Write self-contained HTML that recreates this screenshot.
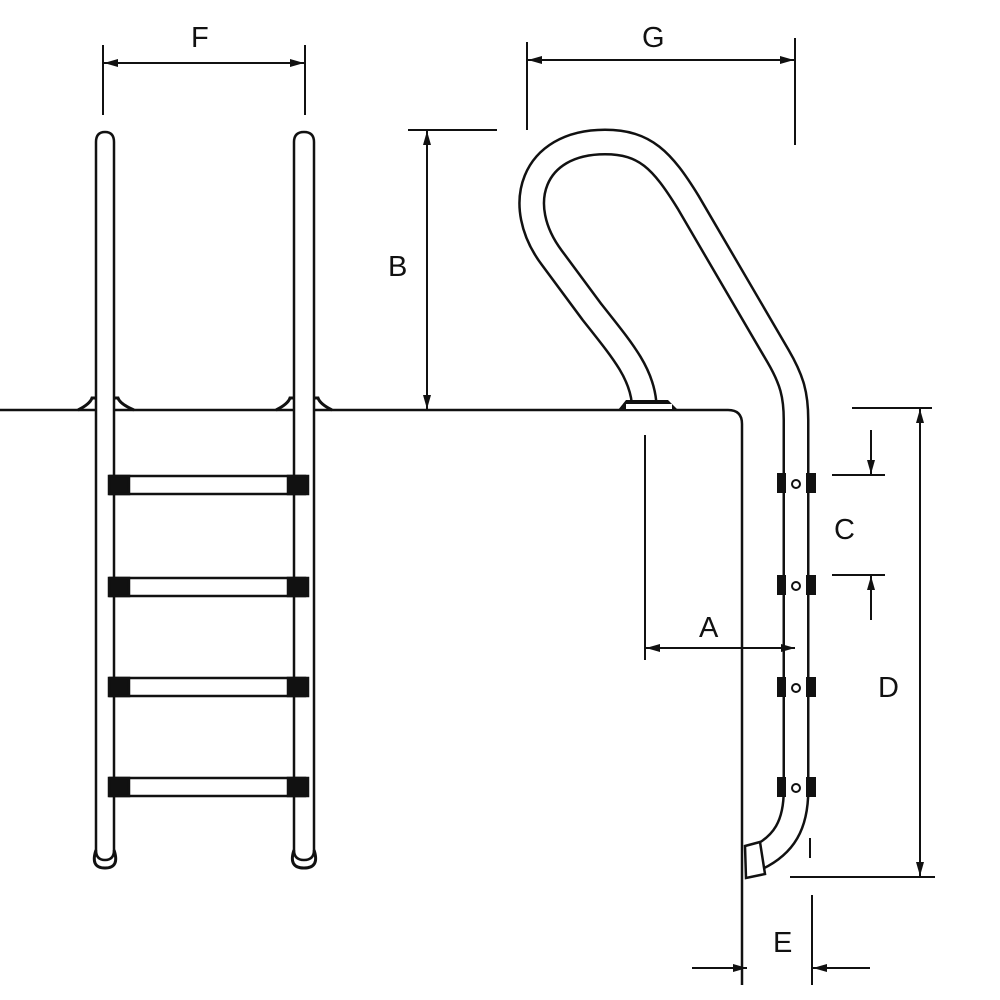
<!DOCTYPE html>
<html><head><style>
html,body{margin:0;padding:0;background:#fff;}
svg{display:block}
text{font-family:"Liberation Sans",sans-serif;font-size:29px;fill:#111;}
</style></head><body>
<svg width="1000" height="1000" viewBox="0 0 1000 1000" xmlns="http://www.w3.org/2000/svg">
<defs>
<marker id="ar" viewBox="0 0 14 8" refX="14" refY="4" markerWidth="14" markerHeight="8" orient="auto-start-reverse" markerUnits="userSpaceOnUse">
<path d="M0,0 L14,4 L0,8 Z" fill="#111"/></marker>
</defs>
<g stroke="#111" fill="none" stroke-width="2.5">
<path d="M78,410 Q90,404 92,398 L118,398 Q120,404 134,410 M276,410 Q288,404 290,398 L318,398 Q320,404 332,410" stroke-width="3"/>
<path d="M0,410 L728,410 Q742,410 742,424 L742,985"/>
<path d="M96,850 L96,142 Q96,132 105,132 Q114,132 114,142 L114,850 Q114,860 105,860 Q96,860 96,850 Z" fill="#fff"/>
<path d="M294,850 L294,142 Q294,132 304,132 Q314,132 314,142 L314,850 Q314,860 304,860 Q294,860 294,850 Z" fill="#fff"/>
<path d="M96,850 Q90,868 105,868 Q120,868 114,850" stroke-width="3"/>
<path d="M294,850 Q288,868 304,868 Q320,868 314,850" stroke-width="3"/>
</g>
<g stroke="#111" stroke-width="2.5">
<g fill="#fff">
<rect x="110" y="476" width="195" height="18"/>
<rect x="110" y="578" width="195" height="18"/>
<rect x="110" y="678" width="195" height="18"/>
<rect x="110" y="778" width="195" height="18"/>
</g>
<g fill="#111">
<rect x="109" y="476" width="20" height="18"/><rect x="288" y="476" width="20" height="18"/>
<rect x="109" y="578" width="20" height="18"/><rect x="288" y="578" width="20" height="18"/>
<rect x="109" y="678" width="20" height="18"/><rect x="288" y="678" width="20" height="18"/>
<rect x="109" y="778" width="20" height="18"/><rect x="288" y="778" width="20" height="18"/>
</g>
</g>
<path d="M644,402 C641,372 622,350 592,312 L552,258 C512,205 532,142 605,142 C645,142 662,160 688,202 L778,356 C792,380 796,395 796,420 L796,790 C796,825 784,845 757,858" fill="none" stroke="#111" stroke-width="27"/>
<path d="M644,402 C641,372 622,350 592,312 L552,258 C512,205 532,142 605,142 C645,142 662,160 688,202 L778,356 C792,380 796,395 796,420 L796,790 C796,825 784,845 757,858" fill="none" stroke="#fff" stroke-width="22"/>
<path d="M618,410 L626,400 L668,400 L678,410 Z" fill="#111"/>
<rect x="626" y="404" width="46" height="5" fill="#fff"/>
<path d="M745,846 L760,842 L765,874 L746,878 Z" fill="#fff" stroke="#111" stroke-width="2.5"/>
<g fill="#111">
<rect x="777" y="473" width="9" height="20"/><rect x="806" y="473" width="10" height="20"/>
<rect x="777" y="575" width="9" height="20"/><rect x="806" y="575" width="10" height="20"/>
<rect x="777" y="677" width="9" height="20"/><rect x="806" y="677" width="10" height="20"/>
<rect x="777" y="777" width="9" height="20"/><rect x="806" y="777" width="10" height="20"/>
</g>
<g fill="#fff" stroke="#111" stroke-width="2">
<circle cx="796" cy="484" r="4"/><circle cx="796" cy="586" r="4"/><circle cx="796" cy="688" r="4"/><circle cx="796" cy="788" r="4"/>
</g>
<g stroke="#111" stroke-width="2" fill="none">
<line x1="103" y1="45" x2="103" y2="115"/><line x1="305" y1="45" x2="305" y2="115"/>
<line x1="104" y1="63" x2="304" y2="63" marker-start="url(#ar)" marker-end="url(#ar)"/>
<line x1="527" y1="42" x2="527" y2="130"/><line x1="795" y1="38" x2="795" y2="145"/>
<line x1="528" y1="60" x2="794" y2="60" marker-start="url(#ar)" marker-end="url(#ar)"/>
<line x1="408" y1="130" x2="497" y2="130"/>
<line x1="427" y1="131" x2="427" y2="409" marker-start="url(#ar)" marker-end="url(#ar)"/>
<line x1="852" y1="408" x2="932" y2="408"/><line x1="790" y1="877" x2="935" y2="877"/>
<line x1="920" y1="409" x2="920" y2="876" marker-start="url(#ar)" marker-end="url(#ar)"/>
<line x1="832" y1="475" x2="885" y2="475"/><line x1="832" y1="575" x2="885" y2="575"/>
<line x1="871" y1="430" x2="871" y2="474" marker-end="url(#ar)"/>
<line x1="871" y1="620" x2="871" y2="576" marker-end="url(#ar)"/>
<line x1="645" y1="435" x2="645" y2="660"/>
<line x1="646" y1="648" x2="795" y2="648" marker-start="url(#ar)" marker-end="url(#ar)"/>
<line x1="812" y1="895" x2="812" y2="985"/>
<line x1="692" y1="968" x2="747" y2="968" marker-end="url(#ar)"/>
<line x1="870" y1="968" x2="813" y2="968" marker-end="url(#ar)"/>
<line x1="810" y1="838" x2="810" y2="858"/>
</g>
<text x="191" y="47">F</text>
<text x="642" y="47">G</text>
<text x="388" y="276">B</text>
<text x="834" y="539">C</text>
<text x="699" y="637">A</text>
<text x="878" y="697">D</text>
<text x="773" y="952">E</text>
</svg>
</body></html>
